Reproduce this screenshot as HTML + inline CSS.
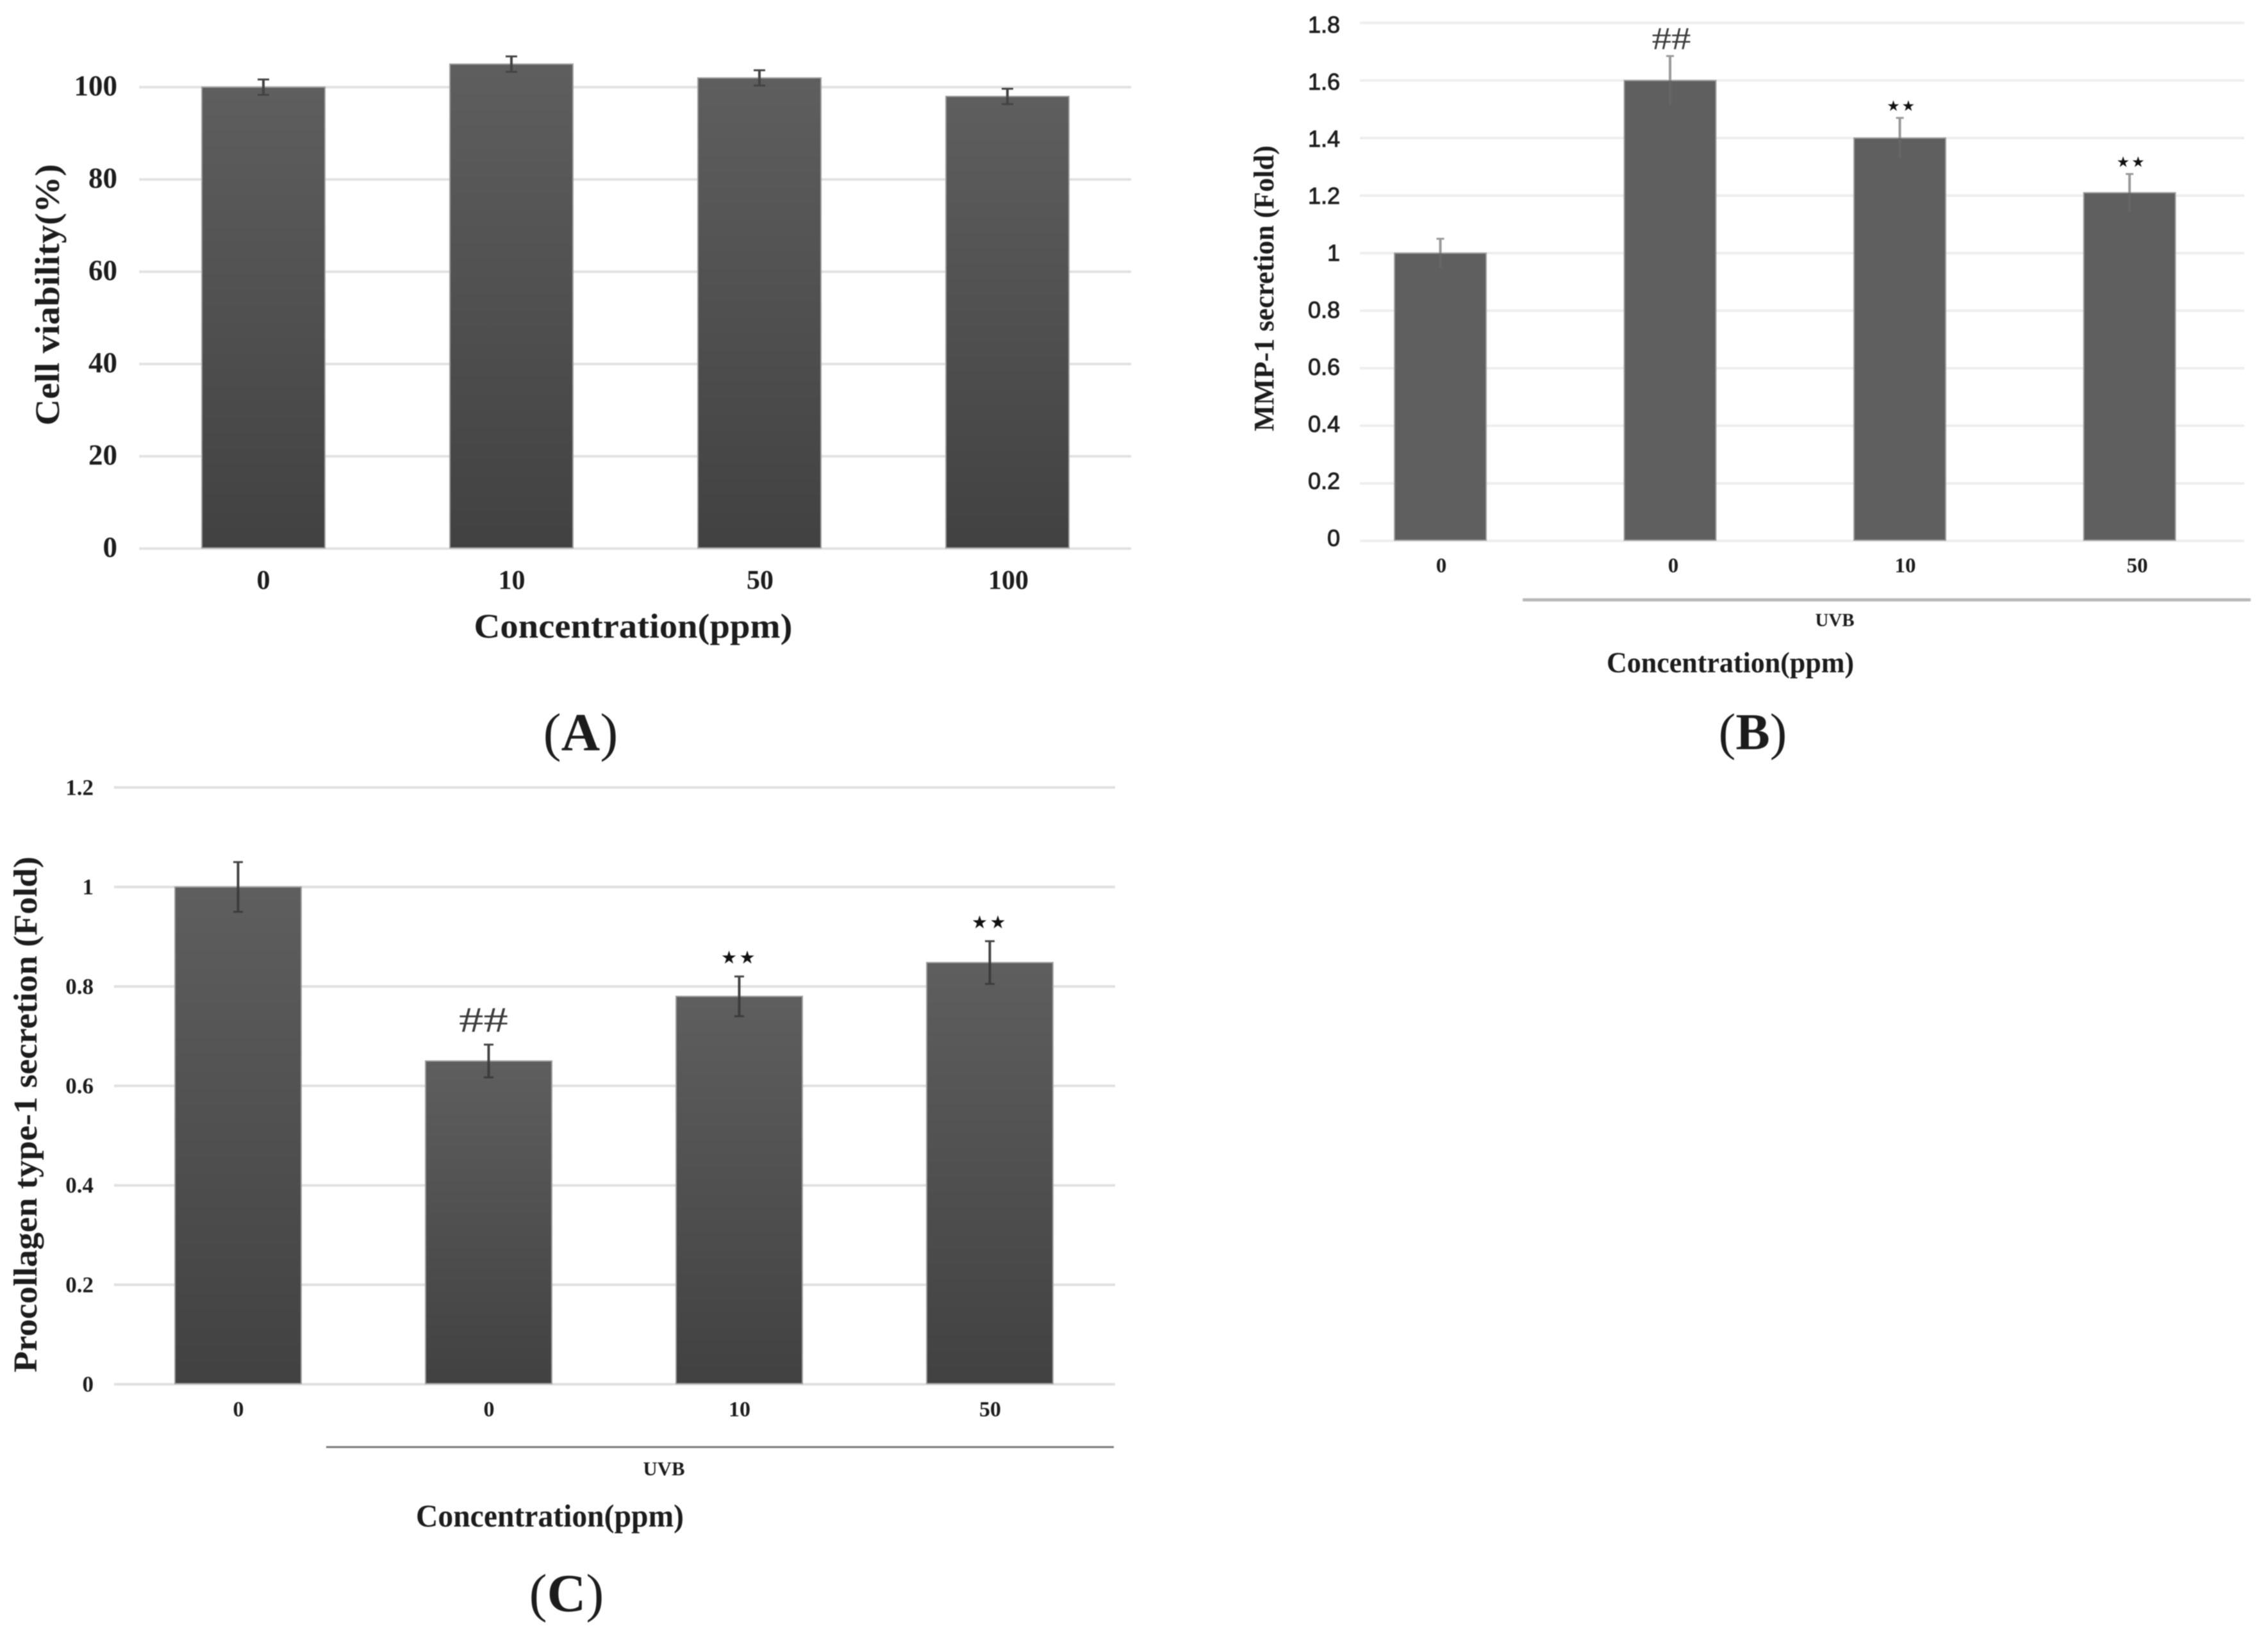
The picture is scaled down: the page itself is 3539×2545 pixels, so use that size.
<!DOCTYPE html>
<html lang="en">
<head>
<meta charset="utf-8">
<title>Cell viability, MMP-1 and procollagen charts</title>
<style>
html,body{margin:0;padding:0;background:#fff;}
#figure{display:block;width:3539px;height:2545px;filter:blur(0.9px);}
text{font-family:"Liberation Serif",serif;font-weight:bold;fill:#1c1c1c;}
.plain{font-weight:normal;}
.sans{font-family:"Liberation Sans",sans-serif;font-weight:normal;stroke:#222;stroke-width:1px;}
</style>
</head>
<body>
<svg id="figure" xmlns="http://www.w3.org/2000/svg" width="3539" height="2545" viewBox="0 0 3539 2545">
  <defs>
    <linearGradient id="barShade" x1="0" y1="0" x2="0" y2="1">
      <stop offset="0" stop-color="#5e5e5e"/>
      <stop offset="1" stop-color="#414141"/>
    </linearGradient>
  </defs>
  <rect width="3539" height="2545" fill="#fff"/>

  <g id="panelA">
    <g class="plot"></g>
    <text transform="translate(92,460) rotate(-90)" text-anchor="middle" font-size="54" textLength="408" lengthAdjust="spacingAndGlyphs">Cell viability(%)</text>
    <text x="988" y="995" text-anchor="middle" font-size="54" textLength="497" lengthAdjust="spacingAndGlyphs">Concentration(ppm)</text>
    <text x="906" y="1171" text-anchor="middle" font-size="84"><tspan class="plain">(</tspan>A<tspan class="plain">)</tspan></text>
  </g>

  <g id="panelB">
    <g class="plot"></g>
    <line x1="2376" y1="936" x2="3512" y2="936" stroke="#b8b8b8" stroke-width="5"/>
    <text x="2863" y="977" text-anchor="middle" font-size="29" textLength="61" lengthAdjust="spacingAndGlyphs">UVB</text>
    <text transform="translate(1987,450) rotate(-90)" text-anchor="middle" font-size="44" textLength="446" lengthAdjust="spacingAndGlyphs">MMP-1 secretion (Fold)</text>
    <text x="2700" y="1049" text-anchor="middle" font-size="46" textLength="386" lengthAdjust="spacingAndGlyphs">Concentration(ppm)</text>
    <text x="2735" y="1169" text-anchor="middle" font-size="80"><tspan class="plain">(</tspan>B<tspan class="plain">)</tspan></text>
  </g>

  <g id="panelC">
    <g class="plot"></g>
    <line x1="509" y1="2258" x2="1738" y2="2258" stroke="#777" stroke-width="3"/>
    <text x="1036" y="2302" text-anchor="middle" font-size="31" textLength="65" lengthAdjust="spacingAndGlyphs">UVB</text>
    <text transform="translate(57,1739) rotate(-90)" text-anchor="middle" font-size="52" textLength="805" lengthAdjust="spacingAndGlyphs">Procollagen type-1 secretion (Fold)</text>
    <text x="858" y="2382" text-anchor="middle" font-size="50" textLength="418" lengthAdjust="spacingAndGlyphs">Concentration(ppm)</text>
    <text x="884" y="2514" text-anchor="middle" font-size="84"><tspan class="plain">(</tspan>C<tspan class="plain">)</tspan></text>
  </g>
</svg>

<script>
// Panel A data
const panelACategories = ['0', '10', '50', '100'];
const panelAValues = [100, 105, 102, 98];
const panelAErrors = [1.66, 1.66, 1.66, 1.66];
const panelATicks = [0, 20, 40, 60, 80, 100];
const panelATickLabels = ['0', '20', '40', '60', '80', '100'];
const panelAMarks = ['', '', '', ''];

// Panel B data
const panelBCategories = ['0', '0', '10', '50'];
const panelBValues = [1.0, 1.6, 1.4, 1.21];
const panelBErrors = [0.05, 0.085, 0.07, 0.065];
const panelBTicks = [0, 0.2, 0.4, 0.6, 0.8, 1, 1.2, 1.4, 1.6, 1.8];
const panelBTickLabels = ['0', '0.2', '0.4', '0.6', '0.8', '1', '1.2', '1.4', '1.6', '1.8'];
const panelBMarks = ['', '##', '★★', '★★'];

// Panel C data
const panelCCategories = ['0', '0', '10', '50'];
const panelCValues = [1.0, 0.65, 0.78, 0.848];
const panelCErrors = [0.05, 0.033, 0.04, 0.043];
const panelCTicks = [0, 0.2, 0.4, 0.6, 0.8, 1, 1.2];
const panelCTickLabels = ['0', '0.2', '0.4', '0.6', '0.8', '1', '1.2'];
const panelCMarks = ['', '##', '★★', '★★'];

const NS = 'http://www.w3.org/2000/svg';

function addLine(parent, name, x1, y1, x2, y2, stroke, width) {
  const el = document.createElementNS(NS, 'line');
  
  
  el.setAttribute('x1', x1);
  el.setAttribute('y1', y1);
  el.setAttribute('x2', x2);
  el.setAttribute('y2', y2);
  el.setAttribute('stroke', stroke);
  el.setAttribute('stroke-width', width);
  parent.appendChild(el);
  return el;
}

function addText(parent, name, x, y, str, size, anchor, cls) {
  const el = document.createElementNS(NS, 'text');
  
  
  el.setAttribute('x', x);
  el.setAttribute('y', y);
  el.setAttribute('font-size', size);
  el.setAttribute('text-anchor', anchor);
  if (cls) el.setAttribute('class', cls);
  el.textContent = str;
  parent.appendChild(el);
  return el;
}

function drawPanel(id, prefix, d, o) {
  const plot = document.querySelector('#' + id + ' .plot');
  const yScale = v => o.y0 - v * o.unit;
  const xScale = i => o.firstBar + i * o.step;
  const labelX = i => o.firstLabel + i * o.labelStep;
  const tickLabelY = v => o.tickY0 - v * o.tickUnit;

  d.ticks.forEach((t, i) => {
    const y = yScale(t);
    addLine(plot, prefix + '-gridline', o.gridL, y, o.gridR, y, o.gridColor, o.gridWidth);
    addText(plot, prefix + '-y-tick-label', o.tickRight, tickLabelY(t) + o.tickSize * 0.33, d.tickLabels[i], o.tickSize, 'end', o.tickClass);
  });

  d.categories.forEach((c, i) => {
    addText(plot, prefix + '-x-tick-label', labelX(i), o.xTickY + o.xTickSize * 0.33, c, o.xTickSize, 'middle');
  });

  d.values.forEach((v, i) => {
    const left = xScale(i);
    const top = yScale(v);
    const bar = document.createElementNS(NS, 'rect');
    
    
    bar.setAttribute('x', left);
    bar.setAttribute('y', top);
    bar.setAttribute('width', o.barW);
    bar.setAttribute('height', o.y0 - 1 - top);
    bar.setAttribute('fill', o.barFill);
    bar.setAttribute('stroke', '#a0a0a0');
    bar.setAttribute('stroke-width', '2');
    plot.appendChild(bar);
  });

  d.values.forEach((v, i) => {
    const cx = xScale(i) + o.barW / 2;
    const hi = yScale(v + d.errors[i]);
    const lo = yScale(v - d.errors[i]);
    const mid = yScale(v);
    addLine(plot, prefix + '-error-bar', cx, hi, cx, mid, o.errAbove, o.errWidth);
    addLine(plot, prefix + '-error-bar', cx, mid, cx, lo, o.errBelow, o.errWidth);
    addLine(plot, prefix + '-error-cap', cx - o.capW / 2, hi, cx + o.capW / 2, hi, o.errAbove, 3);
    if (o.lowerCap) addLine(plot, prefix + '-error-cap', cx - o.capW / 2, lo, cx + o.capW / 2, lo, o.errBelow, 3);

    const mark = d.marks[i];
    if (mark === '##') {
      const m = addText(plot, prefix + '-significance-hash', cx + o.hashDx, hi - o.markGap, mark, o.hashSize, 'middle', 'plain');
      m.setAttribute('textLength', o.hashLen);
      m.setAttribute('lengthAdjust', 'spacingAndGlyphs');
      m.style.fill = '#3c3c3c';
    } else if (mark) {
      const m = addText(plot, prefix + '-significance-stars', cx + o.markDx, hi - o.markGap, mark, o.starSize, 'middle', 'plain');
      m.style.fontFamily = '"DejaVu Sans", sans-serif';
      m.style.letterSpacing = (o.starSize * 0.12) + 'px';
      m.style.fill = '#111';
    }
  });
}

drawPanel('panelA', 'panel-a', {
  categories: panelACategories, values: panelAValues, errors: panelAErrors,
  ticks: panelATicks, tickLabels: panelATickLabels, marks: panelAMarks
}, {
  y0: 856, unit: 7.2, tickY0: 854, tickUnit: 7.2, firstBar: 315, step: 387, barW: 192,
  firstLabel: 411, labelStep: 387.5, gridL: 217, gridR: 1765, gridColor: '#e2e2e2', gridWidth: 4,
  tickRight: 183, tickSize: 45, xTickY: 905, xTickSize: 42, barFill: 'url(#barShade)',
  errAbove: '#444', errBelow: '#444', errWidth: 4, capW: 18, lowerCap: true,
  markGap: 10, markDx: 0, hashDx: 0, hashLen: 60, hashSize: 50, starSize: 24
});

drawPanel('panelB', 'panel-b', {
  categories: panelBCategories, values: panelBValues, errors: panelBErrors,
  ticks: panelBTicks, tickLabels: panelBTickLabels, marks: panelBMarks
}, {
  y0: 844, unit: 449, tickY0: 840, tickUnit: 445, firstBar: 2176, step: 358.5, barW: 143,
  firstLabel: 2249, labelStep: 362, gridL: 2122, gridR: 3502, gridColor: '#eeeeee', gridWidth: 4,
  tickRight: 2091, tickSize: 36, tickClass: 'sans', xTickY: 882, xTickSize: 33, barFill: '#5f5f5f',
  errAbove: '#999', errBelow: '#666666', errWidth: 4, capW: 12, lowerCap: false,
  markGap: 11, markDx: 3, hashDx: 2, hashLen: 61, hashSize: 50, starSize: 23
});

drawPanel('panelC', 'panel-c', {
  categories: panelCCategories, values: panelCValues, errors: panelCErrors,
  ticks: panelCTicks, tickLabels: panelCTickLabels, marks: panelCMarks
}, {
  y0: 2160, unit: 776, tickY0: 2160, tickUnit: 776, firstBar: 273, step: 391, barW: 197,
  firstLabel: 372, labelStep: 391, gridL: 178, gridR: 1740, gridColor: '#e0e0e0', gridWidth: 4,
  tickRight: 146, tickSize: 35, xTickY: 2199, xTickSize: 34, barFill: 'url(#barShade)',
  errAbove: '#444', errBelow: '#3c3c3c', errWidth: 4, capW: 15, lowerCap: true,
  markGap: 20, markDx: 0, hashDx: -8, hashLen: 77, hashSize: 56, starSize: 28
});
</script>
</body>
</html>
